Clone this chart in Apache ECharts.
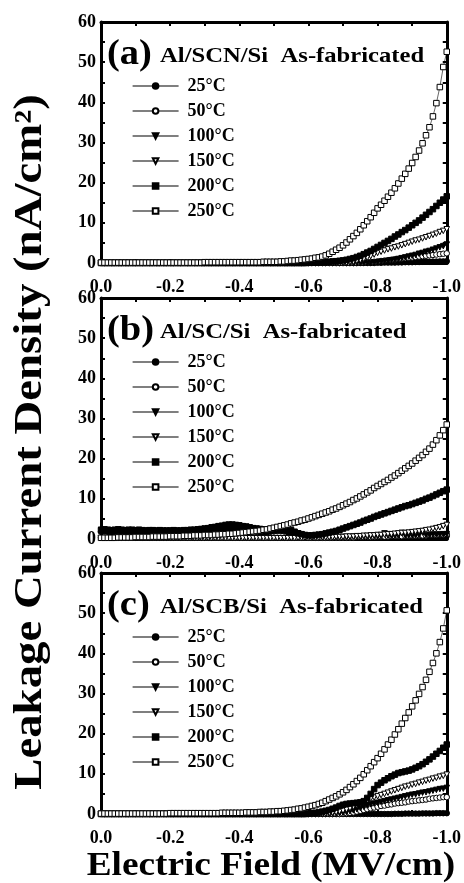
<!DOCTYPE html>
<html>
<head>
<meta charset="utf-8">
<script src="https://cdn.jsdelivr.net/npm/echarts@6/dist/echarts.min.js"></script>
<style>
  html, body { margin: 0; padding: 0; background: #fff; }
  #chart { width: 464px; height: 883px; }
</style>
</head>
<body>
<div id="chart"></div>
<script>
// electric field (MV/cm), shared by all three panels
const fieldX = [
  0, -0.01, -0.02, -0.03, -0.04, -0.05, -0.06, -0.07, -0.08, -0.09,
  -0.1, -0.11, -0.12, -0.13, -0.14, -0.15, -0.16, -0.17, -0.18, -0.19,
  -0.2, -0.21, -0.22, -0.23, -0.24, -0.25, -0.26, -0.27, -0.28, -0.29,
  -0.3, -0.31, -0.32, -0.33, -0.34, -0.35, -0.36, -0.37, -0.38, -0.39,
  -0.4, -0.41, -0.42, -0.43, -0.44, -0.45, -0.46, -0.47, -0.48, -0.49,
  -0.5, -0.51, -0.52, -0.53, -0.54, -0.55, -0.56, -0.57, -0.58, -0.59,
  -0.6, -0.61, -0.62, -0.63, -0.64, -0.65, -0.66, -0.67, -0.68, -0.69,
  -0.7, -0.71, -0.72, -0.73, -0.74, -0.75, -0.76, -0.77, -0.78, -0.79,
  -0.8, -0.81, -0.82, -0.83, -0.84, -0.85, -0.86, -0.87, -0.88, -0.89,
  -0.9, -0.91, -0.92, -0.93, -0.94, -0.95, -0.96, -0.97, -0.98, -0.99,
  -1.0
];

const tempNames = ['25°C', '50°C', '100°C', '150°C', '200°C', '250°C'];
const panelLabels = ['(a)', '(b)', '(c)'];
const panelTitles = ['Al/SCN/Si  As-fabricated', 'Al/SC/Si  As-fabricated', 'Al/SCB/Si  As-fabricated'];
const xTicks = [0, -0.2, -0.4, -0.6, -0.8, -1.0];
const yTicks = [0, 10, 20, 30, 40, 50, 60];

// leakage current density (nA/cm2), panel (a) Al/SCN/Si
const a25 = [
  0, 0, 0, 0, 0, 0, 0, 0, 0, 0,
  0, 0, 0, 0, 0, 0, 0, 0, 0, 0,
  0, 0, 0, 0, 0, 0, 0, 0, 0, 0,
  0, 0, 0, 0, 0, 0, 0, 0, 0, 0,
  0, 0, 0, 0, 0, 0, 0, 0, 0, 0,
  0, 0, 0, 0, 0, 0, 0, 0, 0, 0,
  0, 0, 0, 0, 0, 0, 0, 0, 0, 0,
  0, 0, 0, 0, 0, 0, 0, 0, 0, 0,
  0.05, 0.05, 0.1, 0.1, 0.1, 0.1, 0.15, 0.15, 0.2, 0.2,
  0.2, 0.25, 0.25, 0.3, 0.3, 0.3, 0.35, 0.35, 0.4, 0.4,
  0.45
];
const a50 = [
  0, 0, 0, 0, 0, 0, 0, 0, 0, 0,
  0, 0, 0, 0, 0, 0, 0, 0, 0, 0,
  0, 0, 0, 0, 0, 0, 0, 0, 0, 0,
  0, 0, 0, 0, 0, 0, 0, 0, 0, 0,
  0, 0, 0, 0, 0, 0, 0, 0, 0, 0,
  0, 0, 0, 0, 0, 0, 0, 0, 0, 0,
  0, 0, 0, 0, 0, 0, 0, 0, 0, 0,
  0, 0, 0, 0, 0, 0.1, 0.1, 0.2, 0.2, 0.3,
  0.4, 0.5, 0.6, 0.7, 0.8, 0.9, 1.0, 1.1, 1.2, 1.3,
  1.4, 1.5, 1.6, 1.7, 1.8, 1.9, 2.0, 2.1, 2.2, 2.3,
  2.4
];
const a100 = [
  0, 0, 0, 0, 0, 0, 0, 0, 0, 0,
  0, 0, 0, 0, 0, 0, 0, 0, 0, 0,
  0, 0, 0, 0, 0, 0, 0, 0, 0, 0,
  0, 0, 0, 0, 0, 0, 0, 0, 0, 0,
  0, 0, 0, 0, 0, 0, 0, 0, 0, 0,
  0, 0, 0, 0, 0, 0, 0, 0, 0, 0,
  0, 0, 0, 0, 0, 0, 0, 0, 0, 0,
  0, 0, 0, 0, 0, 0, 0, 0, 0, 0.1,
  0.2, 0.3, 0.4, 0.5, 0.7, 0.8, 1.0, 1.2, 1.4, 1.6,
  1.8, 2.0, 2.3, 2.5, 2.8, 3.0, 3.3, 3.6, 3.9, 4.2,
  4.6
];
const a150 = [
  0, 0, 0, 0, 0, 0, 0, 0, 0, 0,
  0, 0, 0, 0, 0, 0, 0, 0, 0, 0,
  0, 0, 0, 0, 0, 0, 0, 0, 0, 0,
  0, 0, 0, 0, 0, 0, 0, 0, 0, 0,
  0, 0, 0, 0, 0, 0, 0, 0, 0, 0,
  0, 0, 0, 0, 0, 0, 0, 0, 0, 0,
  0, 0, 0, 0, 0, 0, 0, 0, 0, 0,
  0, 0.1, 0.2, 0.3, 0.5, 0.7, 1.0, 1.3, 1.7, 2.1,
  2.5, 2.8, 3.1, 3.4, 3.6, 3.9, 4.1, 4.4, 4.7, 5.0,
  5.3, 5.6, 5.8, 6.1, 6.4, 6.7, 7.0, 7.3, 7.7, 8.0,
  8.4
];
const a200 = [
  0, 0, 0, 0, 0, 0, 0, 0, 0, 0,
  0, 0, 0, 0, 0, 0, 0, 0, 0, 0,
  0, 0, 0, 0, 0, 0, 0, 0, 0, 0,
  0, 0, 0, 0, 0, 0, 0, 0, 0, 0,
  0, 0, 0, 0, 0, 0, 0, 0, 0, 0,
  0, 0, 0, 0, 0, 0, 0, 0, 0, 0,
  0.05, 0.1, 0.1, 0.15, 0.2, 0.25, 0.3, 0.4, 0.45, 0.55,
  0.65, 0.8, 1.0, 1.2, 1.5, 1.8, 2.2, 2.6, 3.0, 3.5,
  4.0, 4.5, 5.0, 5.5, 6.0, 6.6, 7.1, 7.7, 8.2, 8.8,
  9.4, 10.0, 10.6, 11.3, 12.0, 12.7, 13.4, 14.2, 15.0, 15.8,
  16.6
];
const a250 = [
  0.1, 0.1, 0.1, 0.1, 0.1, 0.1, 0.1, 0.1, 0.1, 0.1,
  0.1, 0.1, 0.1, 0.1, 0.1, 0.1, 0.1, 0.1, 0.1, 0.1,
  0.1, 0.1, 0.1, 0.1, 0.1, 0.1, 0.1, 0.1, 0.1, 0.1,
  0.2, 0.2, 0.2, 0.2, 0.2, 0.2, 0.2, 0.2, 0.2, 0.2,
  0.2, 0.2, 0.2, 0.2, 0.2, 0.2, 0.2, 0.3, 0.3, 0.3,
  0.3, 0.3, 0.4, 0.4, 0.5, 0.6, 0.6, 0.7, 0.8, 0.9,
  1.0, 1.1, 1.3, 1.4, 1.6, 1.9, 2.3, 2.8, 3.3, 3.8,
  4.4, 5.1, 5.9, 6.7, 7.5, 8.4, 9.4, 10.4, 11.4, 12.5,
  13.6, 14.5, 15.5, 16.5, 17.5, 18.6, 19.8, 21.0, 22.2, 23.5,
  24.9, 26.4, 28.0, 29.8, 31.8, 33.8, 36.5, 39.8, 43.8, 48.8,
  52.6
];

// panel (b) Al/SC/Si
const b25 = [
  1.8, 1.9, 1.8, 1.7, 1.8, 1.9, 1.8, 1.8, 1.7, 1.8,
  1.8, 1.7, 1.8, 1.7, 1.7, 1.8, 1.7, 1.7, 1.6, 1.7,
  1.7, 1.6, 1.7, 1.7, 1.6, 1.7, 1.7, 1.8, 1.8, 1.9,
  1.9, 2.0, 2.1, 2.2, 2.3, 2.4, 2.5, 2.5, 2.5, 2.4,
  2.3, 2.2, 2.1, 2.0, 1.9, 1.8, 1.7, 1.7, 1.7, 1.8,
  1.9, 2.0, 2.0, 1.9, 1.7, 1.4, 1.1, 0.8, 0.6, 0.5,
  0.4, 0.3, 0.3, 0.3, 0.3, 0.3, 0.3, 0.3, 0.3, 0.3,
  0.3, 0.3, 0.3, 0.3, 0.4, 0.4, 0.4, 0.4, 0.4, 0.4,
  0.4, 0.5, 0.5, 0.5, 0.5, 0.5, 0.5, 0.6, 0.6, 0.6,
  0.6, 0.6, 0.6, 0.7, 0.7, 0.7, 0.7, 0.7, 0.8, 0.8,
  0.8
];
const b50 = [
  0.3, 0.3, 0.3, 0.3, 0.3, 0.3, 0.3, 0.3, 0.3, 0.3,
  0.3, 0.3, 0.3, 0.3, 0.3, 0.3, 0.3, 0.3, 0.3, 0.3,
  0.3, 0.3, 0.3, 0.3, 0.3, 0.3, 0.3, 0.3, 0.3, 0.3,
  0.3, 0.3, 0.3, 0.3, 0.3, 0.3, 0.3, 0.3, 0.3, 0.3,
  0.3, 0.3, 0.3, 0.3, 0.3, 0.3, 0.3, 0.3, 0.3, 0.3,
  0.3, 0.3, 0.3, 0.3, 0.3, 0.3, 0.3, 0.3, 0.3, 0.3,
  0.3, 0.3, 0.3, 0.3, 0.3, 0.3, 0.3, 0.4, 0.4, 0.4,
  0.4, 0.4, 0.4, 0.4, 0.5, 0.5, 0.5, 0.5, 0.5, 0.5,
  0.6, 0.6, 0.6, 0.6, 0.7, 0.7, 0.7, 0.7, 0.8, 0.8,
  0.8, 0.8, 0.9, 0.9, 0.9, 1.0, 1.0, 1.0, 1.1, 1.1,
  1.2
];
const b100 = [
  2.3, 2.4, 2.3, 2.2, 2.3, 2.4, 2.3, 2.2, 2.3, 2.3,
  2.2, 2.3, 2.2, 2.1, 2.2, 2.2, 2.1, 2.2, 2.1, 2.1,
  2.1, 2.2, 2.1, 2.1, 2.2, 2.2, 2.3, 2.3, 2.4, 2.5,
  2.6, 2.7, 2.9, 3.0, 3.2, 3.3, 3.5, 3.6, 3.6, 3.5,
  3.4, 3.2, 3.1, 2.9, 2.7, 2.6, 2.5, 2.4, 2.4, 2.5,
  2.6, 2.7, 2.8, 2.7, 2.5, 2.2, 1.8, 1.4, 1.1, 0.8,
  0.7, 0.6, 0.5, 0.5, 0.5, 0.5, 0.5, 0.5, 0.5, 0.5,
  0.5, 0.5, 0.5, 0.6, 0.6, 0.6, 0.6, 0.6, 0.7, 0.7,
  0.7, 0.7, 1.4, 0.8, 0.8, 0.8, 0.8, 1.5, 0.9, 0.9,
  0.9, 0.9, 1.0, 1.6, 1.0, 1.0, 1.1, 1.1, 1.1, 1.2,
  1.2
];
const b150 = [
  0.2, 0.2, 0.2, 0.2, 0.2, 0.2, 0.2, 0.2, 0.2, 0.2,
  0.2, 0.2, 0.2, 0.2, 0.2, 0.2, 0.2, 0.2, 0.2, 0.2,
  0.2, 0.2, 0.2, 0.2, 0.2, 0.2, 0.2, 0.2, 0.2, 0.2,
  0.2, 0.2, 0.2, 0.2, 0.2, 0.2, 0.2, 0.2, 0.2, 0.2,
  0.2, 0.2, 0.2, 0.2, 0.2, 0.2, 0.2, 0.2, 0.2, 0.2,
  0.2, 0.2, 0.2, 0.2, 0.2, 0.2, 0.2, 0.3, 0.3, 0.3,
  0.3, 0.3, 0.3, 0.3, 0.4, 0.4, 0.4, 0.4, 0.5, 0.5,
  0.5, 0.6, 0.6, 0.6, 0.7, 0.7, 0.8, 0.8, 0.9, 0.9,
  1.0, 1.0, 1.1, 1.2, 1.2, 1.3, 1.4, 1.5, 1.5, 1.6,
  1.7, 1.8, 1.9, 2.0, 2.2, 2.3, 2.5, 2.7, 2.9, 3.2,
  3.5
];
const b200 = [
  2.2, 2.3, 2.2, 2.1, 2.2, 2.3, 2.2, 2.1, 2.2, 2.2,
  2.1, 2.2, 2.1, 2.0, 2.1, 2.1, 2.0, 2.1, 2.0, 2.0,
  2.0, 2.1, 2.0, 2.0, 2.1, 2.1, 2.2, 2.2, 2.3, 2.4,
  2.5, 2.6, 2.8, 2.9, 3.1, 3.2, 3.3, 3.4, 3.4, 3.3,
  3.2, 3.1, 3.0, 2.8, 2.6, 2.5, 2.4, 2.3, 2.3, 2.4,
  2.5, 2.6, 2.6, 2.5, 2.3, 2.0, 1.7, 1.4, 1.2, 1.0,
  0.9, 0.9, 1.0, 1.1, 1.2, 1.4, 1.6, 1.8, 2.0, 2.3,
  2.6, 2.9, 3.2, 3.5, 3.8, 4.1, 4.5, 4.8, 5.1, 5.5,
  5.8, 6.1, 6.4, 6.7, 7.0, 7.3, 7.6, 7.9, 8.2, 8.4,
  8.7, 9.0, 9.3, 9.6, 10.0, 10.3, 10.7, 11.1, 11.5, 11.9,
  12.3
];
const b250 = [
  0.3, 0.3, 0.3, 0.3, 0.3, 0.4, 0.4, 0.4, 0.4, 0.4,
  0.5, 0.5, 0.5, 0.5, 0.5, 0.6, 0.6, 0.6, 0.6, 0.6,
  0.7, 0.7, 0.7, 0.7, 0.8, 0.8, 0.8, 0.9, 0.9, 0.9,
  1.0, 1.0, 1.0, 1.1, 1.1, 1.2, 1.2, 1.3, 1.3, 1.4,
  1.5, 1.6, 1.7, 1.8, 1.9, 2.0, 2.1, 2.3, 2.4, 2.6,
  2.8, 3.0, 3.2, 3.4, 3.6, 3.9, 4.1, 4.3, 4.6, 4.8,
  5.1, 5.4, 5.7, 6.0, 6.3, 6.6, 6.9, 7.3, 7.6, 8.0,
  8.4, 8.8, 9.2, 9.7, 10.1, 10.6, 11.1, 11.6, 12.1, 12.7,
  13.2, 13.7, 14.2, 14.7, 15.3, 15.8, 16.4, 17.0, 17.6, 18.2,
  18.8, 19.5, 20.2, 20.9, 21.7, 22.5, 23.5, 24.6, 25.8, 27.1,
  28.5
];

// panel (c) Al/SCB/Si
const c25 = [
  0, 0, 0, 0, 0, 0, 0, 0, 0, 0,
  0, 0, 0, 0, 0, 0, 0, 0, 0, 0,
  0, 0, 0, 0, 0, 0, 0, 0, 0, 0,
  0, 0, 0, 0, 0, 0, 0, 0, 0, 0,
  0, 0, 0, 0, 0, 0, 0, 0, 0, 0,
  0, 0, 0, 0, 0, 0, 0, 0, 0, 0,
  0, 0, 0, 0, 0, 0, 0, 0, 0, 0,
  0, 0, 0, 0, 0, 0, 0, 0, 0, 0,
  0, 0, 0, 0, 0, 0.05, 0.05, 0.05, 0.1, 0.1,
  0.1, 0.1, 0.1, 0.15, 0.15, 0.15, 0.15, 0.2, 0.2, 0.2,
  0.2
];
const c50 = [
  0, 0, 0, 0, 0, 0, 0, 0, 0, 0,
  0, 0, 0, 0, 0, 0, 0, 0, 0, 0,
  0, 0, 0, 0, 0, 0, 0, 0, 0, 0,
  0, 0, 0, 0, 0, 0, 0, 0, 0, 0,
  0, 0, 0, 0, 0, 0, 0, 0, 0, 0,
  0, 0, 0, 0, 0, 0, 0, 0, 0, 0,
  0, 0, 0, 0, 0, 0, 0, 0, 0, 0,
  0.1, 0.2, 0.3, 0.4, 0.6, 0.8, 1.0, 1.2, 1.4, 1.6,
  1.8, 2.0, 2.1, 2.3, 2.4, 2.6, 2.7, 2.8, 2.9, 3.1,
  3.2, 3.3, 3.4, 3.5, 3.6, 3.8, 3.9, 4.0, 4.1, 4.2,
  4.2
];
const c100 = [
  0, 0, 0, 0, 0, 0, 0, 0, 0, 0,
  0, 0, 0, 0, 0, 0, 0, 0, 0, 0,
  0, 0, 0, 0, 0, 0, 0, 0, 0, 0,
  0, 0, 0, 0, 0, 0, 0, 0, 0, 0,
  0, 0, 0, 0, 0, 0, 0, 0, 0, 0,
  0, 0, 0, 0, 0, 0, 0, 0, 0, 0,
  0, 0, 0, 0, 0, 0.05, 0.1, 0.1, 0.15, 0.2,
  0.3, 0.5, 0.7, 0.9, 1.2, 1.5, 1.8, 2.1, 2.4, 2.6,
  2.8, 3.0, 3.2, 3.4, 3.6, 3.8, 4.0, 4.2, 4.4, 4.6,
  4.8, 4.9, 5.1, 5.3, 5.4, 5.6, 5.8, 6.0, 6.2, 6.3,
  6.5
];
const c150 = [
  0, 0, 0, 0, 0, 0, 0, 0, 0, 0,
  0, 0, 0, 0, 0, 0, 0, 0, 0, 0,
  0, 0, 0, 0, 0, 0, 0, 0, 0, 0,
  0, 0, 0, 0, 0, 0, 0, 0, 0, 0,
  0, 0, 0, 0, 0, 0, 0, 0, 0, 0,
  0, 0, 0, 0, 0, 0, 0, 0, 0, 0,
  0, 0, 0, 0, 0, 0.1, 0.2, 0.3, 0.4, 0.6,
  0.8, 1.1, 1.4, 1.8, 2.2, 2.6, 3.0, 3.4, 3.8, 4.1,
  4.4, 4.7, 5.0, 5.3, 5.6, 5.9, 6.2, 6.5, 6.8, 7.0,
  7.3, 7.5, 7.8, 8.0, 8.3, 8.5, 8.8, 9.0, 9.3, 9.5,
  9.8
];
const c200 = [
  0, 0, 0, 0, 0, 0, 0, 0, 0, 0,
  0, 0, 0, 0, 0, 0, 0, 0, 0, 0,
  0, 0, 0, 0, 0, 0, 0, 0, 0, 0,
  0, 0, 0, 0, 0, 0, 0, 0, 0, 0,
  0, 0, 0, 0, 0, 0, 0, 0, 0, 0,
  0, 0, 0, 0, 0, 0, 0, 0, 0, 0,
  0.1, 0.2, 0.3, 0.4, 0.6, 0.8, 1.0, 1.3, 1.6, 2.0,
  2.3, 2.5, 2.6, 2.7, 2.8, 2.9, 3.2, 4.0, 5.0, 6.2,
  7.2, 7.8, 8.4, 8.9, 9.4, 9.8, 10.2, 10.4, 10.6, 10.8,
  11.1, 11.5, 11.9, 12.4, 13.0, 13.6, 14.3, 15.0, 15.7, 16.5,
  17.3
];
const c250 = [
  0.1, 0.1, 0.1, 0.1, 0.1, 0.1, 0.1, 0.1, 0.1, 0.1,
  0.1, 0.1, 0.1, 0.1, 0.1, 0.1, 0.1, 0.1, 0.1, 0.1,
  0.2, 0.2, 0.2, 0.2, 0.2, 0.2, 0.2, 0.2, 0.2, 0.2,
  0.2, 0.2, 0.2, 0.2, 0.2, 0.3, 0.3, 0.3, 0.3, 0.3,
  0.3, 0.3, 0.4, 0.4, 0.4, 0.4, 0.5, 0.5, 0.5, 0.6,
  0.6, 0.7, 0.7, 0.8, 0.9, 1.0, 1.1, 1.3, 1.4, 1.6,
  1.8, 2.0, 2.2, 2.5, 2.8, 3.2, 3.6, 4.0, 4.4, 4.9,
  5.4, 6.0, 6.7, 7.4, 8.2, 9.0, 9.9, 10.9, 11.9, 12.9,
  13.9, 15.0, 16.1, 17.3, 18.5, 19.8, 21.1, 22.5, 23.9, 25.3,
  26.8, 28.3, 29.9, 31.6, 33.4, 35.4, 37.6, 40.0, 42.8, 46.2,
  50.7
];

const panelData = [
  [a25, a50, a100, a150, a200, a250],
  [b25, b50, b100, b150, b200, b250],
  [c25, c50, c100, c150, c200, c250]
];

const serif = '"Liberation Serif", "Times New Roman", serif';
const panelTops = [22, 298, 573];
const panelHeight = 241;
const plotLeft = 101;
const plotWidth = 346;

// marker per temperature: filled/open circle, down triangle, square
const marks = [
  { symbol: 'circle', fill: '#000', rotate: 0 },
  { symbol: 'circle', fill: '#fff', rotate: 0 },
  { symbol: 'triangle', fill: '#000', rotate: 180 },
  { symbol: 'triangle', fill: '#fff', rotate: 180 },
  { symbol: 'rect', fill: '#000', rotate: 0 },
  { symbol: 'rect', fill: '#fff', rotate: 0 }
];

const tickStyle = { inside: true, length: 4, lineStyle: { color: '#000', width: 2 } };
const frameLine = { show: true, onZero: false, lineStyle: { color: '#000', width: 3 } };
const labelFont = { fontFamily: serif, fontWeight: 'bold', fontSize: 18, color: '#000' };

const grid = [];
const xAxis = [];
const yAxis = [];
const series = [];
const legend = [];
const graphic = [];

panelTops.forEach((top, p) => {
  grid.push({ left: plotLeft, top: top, width: plotWidth, height: panelHeight });

  [false, true].forEach(isTop => {
    xAxis.push({
      gridIndex: p,
      type: 'value',
      position: isTop ? 'top' : 'bottom',
      min: -1,
      max: 0,
      interval: 0.2,
      inverse: true,
      axisLine: frameLine,
      axisTick: tickStyle,
      minorTick: { show: true, splitNumber: 2, length: 4, lineStyle: { color: '#000', width: 2 } },
      splitLine: { show: false },
      axisLabel: {
        show: !isTop,
        margin: 15,
        formatter: v => v.toFixed(1),
        ...labelFont
      }
    });
    yAxis.push({
      gridIndex: p,
      type: 'value',
      position: isTop ? 'right' : 'left',
      min: 0,
      max: 60,
      interval: 10,
      axisLine: frameLine,
      axisTick: tickStyle,
      minorTick: { show: true, splitNumber: 2, length: 4, lineStyle: { color: '#000', width: 2 } },
      splitLine: { show: false },
      axisLabel: { show: !isTop, margin: 5, ...labelFont }
    });
  });

  tempNames.forEach((name, t) => {
    const m = marks[t];
    series.push({
      type: 'line',
      name: name,
      xAxisIndex: p * 2,
      yAxisIndex: p * 2,
      data: fieldX.map((x, i) => [x, panelData[p][t][i]]),
      symbol: m.symbol,
      symbolRotate: m.rotate,
      symbolSize: 5.5,
      itemStyle: { color: m.fill, borderColor: '#000', borderWidth: 1 },
      lineStyle: { color: '#000', width: 0.6 },
      emphasis: { disabled: true },
      animation: false
    });
  });

  legend.push({
    orient: 'vertical',
    left: 127,
    top: top + 50,
    itemWidth: 46,
    itemHeight: 7,
    itemGap: 7,
    selectedMode: false,
    data: tempNames,
    lineStyle: { color: '#000', width: 1.2 },
    textStyle: { fontFamily: serif, fontWeight: 'bold', fontSize: 18, color: '#000', lineHeight: 16, padding: [0, 0, 0, 4] }
  });

  graphic.push({
    type: 'text',
    x: 107,
    y: top + 33,
    scaleX: 1.1,
    style: { text: panelLabels[p], font: 'bold 35px ' + serif, fill: '#000', align: 'left', verticalAlign: 'middle' }
  });
  graphic.push({
    type: 'text',
    x: 160,
    y: top + 34,
    scaleX: 1.12,
    style: { text: panelTitles[p], font: 'bold 22px ' + serif, fill: '#000', align: 'left', verticalAlign: 'middle' }
  });
});

graphic.push({
  type: 'text',
  x: 31,
  y: 442,
  rotation: Math.PI / 2,
  scaleX: 1.17,
  style: {
    text: 'Leakage Current Density (nA/cm²)',
    font: 'bold 40px ' + serif,
    fill: '#000',
    align: 'center',
    verticalAlign: 'middle'
  }
});
graphic.push({
  type: 'text',
  x: 271,
  y: 866,
  scaleX: 1.13,
  style: {
    text: 'Electric Field (MV/cm)',
    font: 'bold 33px ' + serif,
    fill: '#000',
    align: 'center',
    verticalAlign: 'middle'
  }
});

const chart = echarts.init(document.getElementById('chart'));
chart.setOption({
  backgroundColor: '#fff',
  animation: false,
  grid: grid,
  xAxis: xAxis,
  yAxis: yAxis,
  legend: legend,
  graphic: graphic,
  series: series
});
</script>
</body>
</html>
